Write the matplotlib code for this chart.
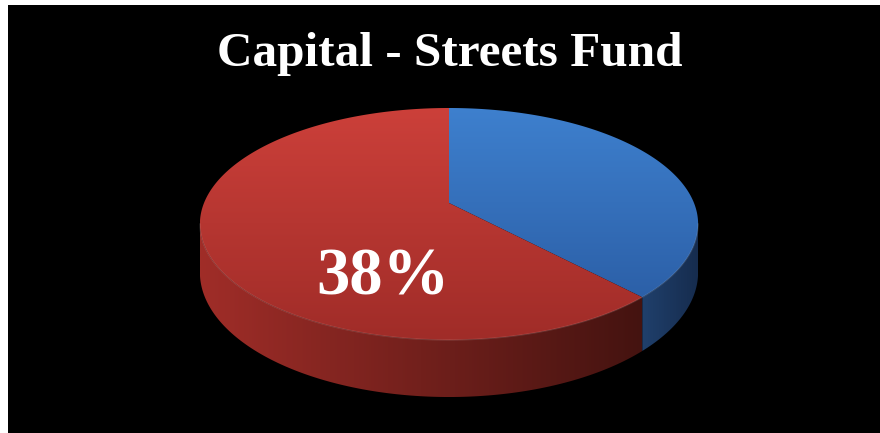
import matplotlib
matplotlib.use("Agg")
import matplotlib.pyplot as plt
import numpy as np
from matplotlib.patches import Polygon

# data
slices = ['Slice 1', 'Slice 2']
values = [38, 62]
label_text = '38%'
title = 'Capital - Streets Fund'

# colours (top gradient start/end, side gradient start/end)
top_cols = [((62, 128, 206), (44, 96, 168)), ((204, 64, 58), (160, 44, 40))]
side_cols = [((32, 64, 108), (22, 44, 78)), ((160, 45, 40), (68, 19, 16))]

# pie geometry in pixel space (simple perspective)
cx, cy = 449, 203
A, B, p = 245, 112.2, 0.181
depth = 46.7


def proj(theta, drop=0.0):
    X = np.cos(theta)
    Z = np.sin(theta)
    s = 1 + p * Z
    return cx + A * X / s, cy - B * Z / s + drop / s


def grad_fill(ax, xy, c0, c1, vertical=True, z=2):
    patch = Polygon(xy, closed=True, facecolor='none', edgecolor='none')
    ax.add_patch(patch)
    c0 = np.array(c0) / 255.0
    c1 = np.array(c1) / 255.0
    t = np.linspace(0, 1, 256)
    if vertical:
        img = (c0 + (c1 - c0) * t[:, None])[:, None, :]
    else:
        img = (c0 + (c1 - c0) * t[:, None])[None, :, :]
    x0, y0 = xy.min(axis=0)
    x1, y1 = xy.max(axis=0)
    im = ax.imshow(img, extent=[x0, x1, y1, y0], origin='upper',
                   aspect='auto', interpolation='bilinear', zorder=z)
    im.set_clip_path(patch)


fig = plt.figure(figsize=(8.8, 4.33), dpi=100, facecolor='white')
ax = fig.add_axes([8 / 880, 0, 872 / 880, 428 / 433])
ax.set_facecolor('black')
ax.set_xticks([])
ax.set_yticks([])
for s in ax.spines.values():
    s.set_visible(False)

total = float(sum(values))
cum = np.concatenate([[0], np.cumsum(values) / total * 360.0])

# visible front rim: between left-most and right-most projected points
grid = np.radians(np.linspace(180, 360, 2000) - 20)
gx, _ = proj(grid)
thL = grid[np.argmin(gx)]
full = np.radians(np.linspace(np.degrees(thL), 380, 4000))
fx, _ = proj(full)
thR = full[np.argmax(fx)]
front = np.linspace(thL, thR, 3000)
front_cw = (90 - np.degrees(front)) % 360

for i in range(len(values)):
    # side wall
    m = (front_cw >= cum[i]) & (front_cw <= cum[i + 1])
    if m.sum() > 1:
        ts = front[m]
        tx, ty = proj(ts)
        bx, by = proj(ts, depth)
        xy = np.column_stack([np.concatenate([tx, bx[::-1]]),
                              np.concatenate([ty, by[::-1]])])
        grad_fill(ax, xy, side_cols[i][0], side_cols[i][1], vertical=False, z=2)

    # top face
    a0 = np.radians(90 - cum[i])
    a1 = np.radians(90 - cum[i + 1])
    ts = np.linspace(a0, a1, 400)
    tx, ty = proj(ts)
    xy = np.column_stack([np.concatenate([[cx], tx]), np.concatenate([[cy], ty])])
    grad_fill(ax, xy, top_cols[i][0], top_cols[i][1], vertical=True, z=3)

# subtle highlight on the front rim
rx, ry = proj(front)
ax.plot(rx, ry, color='white', alpha=0.12, lw=1, zorder=4)

ax.text(450, 66, title, color='white', fontsize=35.5, fontweight='bold',
        family='Liberation Serif', ha='center', va='baseline', zorder=5)
ax.text(383, 295, label_text, color='white', fontsize=48, fontweight='bold',
        family='Liberation Serif', ha='center', va='baseline', zorder=5)

ax.set_xlim(8, 880)
ax.set_ylim(433, 5)
fig.savefig('out.png', dpi=100, facecolor='white')
